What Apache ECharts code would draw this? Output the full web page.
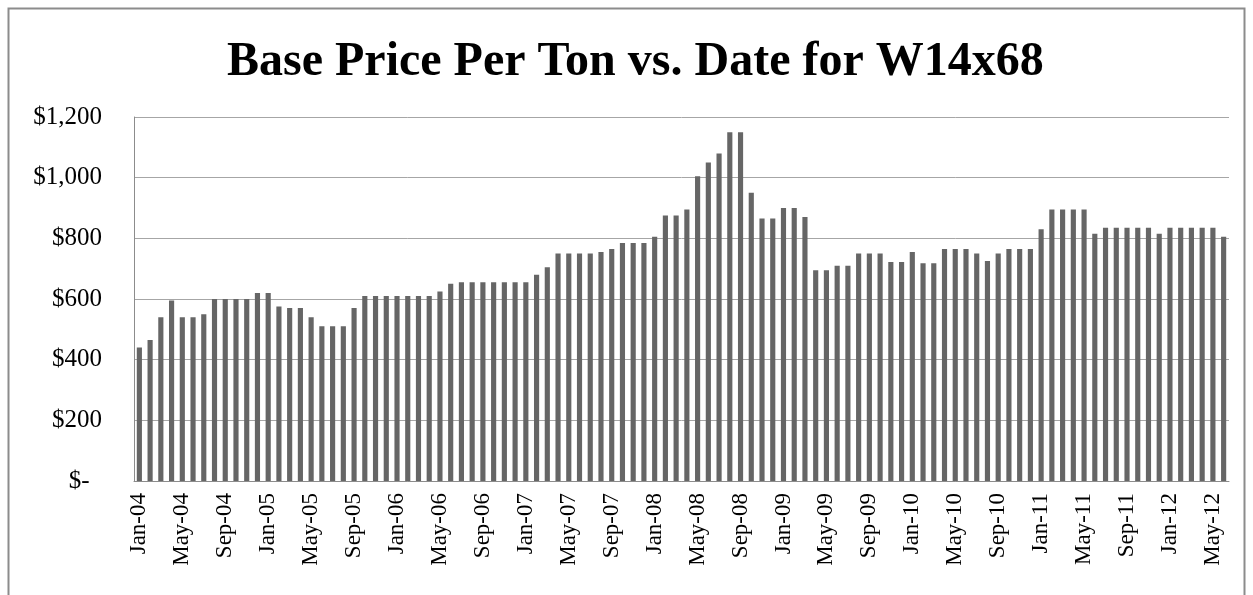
<!DOCTYPE html>
<html>
<head>
<meta charset="utf-8">
<script src="https://cdn.jsdelivr.net/npm/echarts@6/dist/echarts.min.js"></script>
<style>
html,body{margin:0;padding:0;background:#fff;}
#chart{width:1253px;height:595px;}
</style>
</head>
<body>
<div id="chart"></div>
<script>
// Data
var monthNames = ['Jan','Feb','Mar','Apr','May','Jun','Jul','Aug','Sep','Oct','Nov','Dec'];
var years = ['04','05','06','07','08','09','10','11','12'];
var lastMonthIndex2012 = 5; // series ends Jun-12
var categories = [];
years.forEach(function (y, yi) {
  monthNames.forEach(function (m, mi) {
    if (yi === years.length - 1 && mi > lastMonthIndex2012) return;
    categories.push(m + '-' + y);
  });
});

var pricePerTon = [
  440, 465, 540, 595, 540, 540, 550, 600, 600, 600, 600, 620,
  620, 575, 570, 570, 540, 510, 510, 510, 570, 610, 610, 610,
  610, 610, 610, 610, 625, 650, 655, 655, 655, 655, 655, 655,
  655, 680, 705, 750, 750, 750, 750, 755, 765, 785, 785, 785,
  805, 875, 875, 895, 1005, 1050, 1080, 1150, 1150, 950, 865, 865,
  900, 900, 870, 695, 695, 710, 710, 750, 750, 750, 722, 722,
  755, 718, 718, 765, 765, 765, 750, 725, 750, 765, 765, 765,
  830, 895, 895, 895, 895, 815, 835, 835, 835, 835, 835, 815,
  835, 835, 835, 835, 835, 805
];

var yTicks = { min: 0, max: 1200, interval: 200 };
var titleText = 'Base Price Per Ton vs. Date for W14x68';

var chart = echarts.init(document.getElementById('chart'), null, { renderer: 'canvas' });
var serif = '"Liberation Serif", "Times New Roman", serif';

chart.setOption({
  backgroundColor: '#ffffff',
  animation: false,
  title: {
    text: titleText,
    left: 222,
    top: 34,
    textStyle: { fontFamily: serif, fontWeight: 'bold', fontSize: 48, color: '#000' }
  },
  graphic: [{
    type: 'rect',
    shape: { x: 8.5, y: 8.5, width: 1236, height: 600 },
    style: { fill: 'none', stroke: '#8c8c8c', lineWidth: 2 },
    silent: true, z: -1
  }],
  grid: { left: 134, right: 24, top: 117, bottom: 114, containLabel: false },
  xAxis: {
    type: 'category',
    data: categories,
    axisLine: { show: true, lineStyle: { color: '#8c8c8c', width: 1 } },
    axisTick: { show: false },
    axisLabel: {
      interval: 3,
      rotate: 90,
      margin: 12,
      fontFamily: serif,
      fontSize: 23,
      color: '#000'
    },
    splitLine: { show: false }
  },
  yAxis: {
    type: 'value',
    min: yTicks.min,
    max: yTicks.max,
    interval: yTicks.interval,
    axisLine: { show: true, lineStyle: { color: '#8c8c8c', width: 1 } },
    axisTick: { show: false },
    axisLabel: {
      margin: 32,
      fontFamily: serif,
      fontSize: 25,
      color: '#000',
      formatter: function (v) {
        if (v === 0) return '$-\u2002';
        return '$' + v.toLocaleString('en-US');
      }
    },
    splitLine: { show: true, lineStyle: { color: '#a6a6a6', width: 1 } }
  },
  series: [{
    type: 'bar',
    data: pricePerTon,
    barCategoryGap: '52%',
    itemStyle: { color: '#666666' }
  }]
});
</script>
</body>
</html>
